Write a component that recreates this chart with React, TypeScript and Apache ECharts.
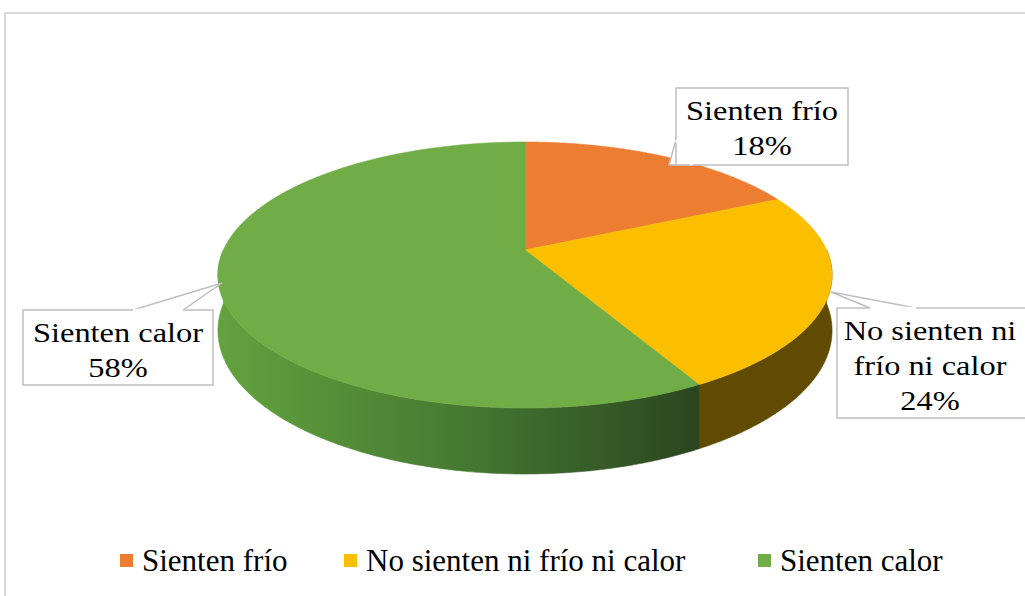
import React, { useEffect, useRef } from "react";
import * as echarts from "echarts";

const categories = ["Sienten frío", "No sienten ni frío ni calor", "Sienten calor"];
const values = [18, 24, 58];
const topColors = ["#ED7D31", "#FBBF00", "#70AD47"];

export default function App() {
  const ref = useRef<HTMLDivElement>(null);

  useEffect(() => {
    document.body.style.margin = "0";
    if (!ref.current) return;
    const chart = echarts.init(ref.current, null, { renderer: "svg" });

    // projection of the tilted disc (perspective)
    const cx = 525, cy = 250, A = 301.6, B = 128.3, k = 0.188, D = 53.6;
    const proj = (deg: number, drop: number) => {
      const t = (deg * Math.PI) / 180;
      const u = Math.sin(t), v = -Math.cos(t);
      const s = 1 / (1 - k * v);
      return [cx + A * u * s, cy + B * v * s + drop * s];
    };
    const total = values.reduce((a, b) => a + b, 0);
    const starts: number[] = [];
    let acc = 0;
    values.forEach((v) => { starts.push((acc / total) * 360); acc += v; });

    const wallFills: any[] = [
      "#7a3f14",
      "#614b00",
      {
        type: "linear", x: 218, y: 0, x2: 700, y2: 0, global: true,
        colorStops: [
          { offset: 0, color: "#63a23f" },
          { offset: 0.5, color: "#467a32" },
          { offset: 1, color: "#2a4520" },
        ],
      },
    ];

    const makeRender = (i: number) => (params: any, api: any) => {
      const a0 = starts[i];
      const a1 = a0 + (api.value(0) / total) * 360;
      const children: any[] = [];
      const w0 = Math.max(a0, 90), w1 = Math.min(a1, 270);
      if (w1 > w0) {
        const topPts: number[][] = [];
        const botPts: number[][] = [];
        for (let a = w0; a <= w1 + 1e-6; a += 0.5) {
          topPts.push(proj(a, 0));
          botPts.push(proj(a, D));
        }
        topPts.push(proj(w1, 0));
        botPts.push(proj(w1, D));
        children.push({
          type: "polygon",
          shape: { points: topPts.concat(botPts.reverse()) },
          style: { fill: wallFills[i], stroke: wallFills[i], lineWidth: 0.6 },
        });
      }
      const pts: number[][] = [[cx, cy]];
      for (let a = a0; a <= a1 + 1e-6; a += 0.5) pts.push(proj(a, 0));
      pts.push(proj(a1, 0));
      children.push({
        type: "polygon",
        shape: { points: pts },
        style: { fill: topColors[i], stroke: topColors[i], lineWidth: 0.6 },
      });
      return { type: "group", children };
    };

    const fontFamily = "Liberation Serif";
    const pct = (i: number) => Math.round((values[i] / total) * 100) + "%";
    const gray = "#bfbfbf";

    const callout = (
      box: { x: number; y: number; w: number; h: number },
      base: number[][],
      tip: number[],
      lines: string,
      textX: number,
      textY: number
    ) => {
      const [b1, b2] = base;
      return [
        {
          type: "polygon", z: 100,
          shape: { points: [b1, tip, b2] },
          style: { fill: "#fff", stroke: gray, lineWidth: 1.5 },
        },
        {
          type: "rect", z: 101,
          shape: { x: box.x, y: box.y, width: box.w, height: box.h },
          style: { fill: "#fff", stroke: gray, lineWidth: 1.5 },
        },
        {
          type: "line", z: 102,
          shape: { x1: b1[0], y1: b1[1], x2: b2[0], y2: b2[1] },
          style: { stroke: "#fff", lineWidth: 2.5 },
        },
        {
          type: "text", z: 103,
          x: textX,
          y: textY,
          scaleX: 1.2,
          style: {
            text: lines,
            fontFamily,
            fontSize: 27,
            lineHeight: 35,
            fill: "#000",
            align: "center",
            verticalAlign: "top",
          },
        },
      ];
    };

    const label = (i: number, splitAfterWords = 0) => {
      const name = categories[i];
      if (!splitAfterWords) return name + "\n" + pct(i);
      const words = name.split(" ");
      return words.slice(0, splitAfterWords).join(" ") + "\n" + words.slice(splitAfterWords).join(" ") + "\n" + pct(i);
    };

    const legendLefts = [120, 344, 758];

    chart.setOption({
      animation: false,
      backgroundColor: "#fff",
      textStyle: { fontFamily },
      legend: categories.map((c, i) => ({
        left: legendLefts[i],
        top: 545,
        padding: 0,
        icon: "rect",
        itemWidth: 13,
        itemHeight: 13,
        data: [c],
        selectedMode: false,
        textStyle: { fontFamily, fontSize: 31, color: "#000", padding: [0, 0, 0, 4] },
      })),
      series: categories.map((name, i) => ({
        type: "custom",
        name,
        coordinateSystem: "none",
        itemStyle: { color: topColors[i] },
        renderItem: makeRender(i),
        data: [[values[i]]],
        silent: true,
      })),
      graphic: [
        {
          type: "rect",
          shape: { x: 5, y: 13, width: 1040, height: 600 },
          style: { fill: "none", stroke: "#d9d9d9", lineWidth: 2 },
          z: 0,
        },
        ...callout({ x: 676, y: 88, w: 172, h: 77 }, [[676, 140], [692, 165]], [669, 165], label(0), 762, 93),
        ...callout({ x: 837, y: 308, w: 200, h: 110 }, [[870, 308], [916, 308]], [831, 292], label(1, 3), 930, 313),
        ...callout({ x: 23, y: 310, w: 190, h: 75 }, [[133, 310], [183, 310]], [222, 283], label(2), 118, 315),
      ],
    });
    return () => chart.dispose();
  }, []);

  return <div ref={ref} style={{ width: 1025, height: 596 }} />;
}
